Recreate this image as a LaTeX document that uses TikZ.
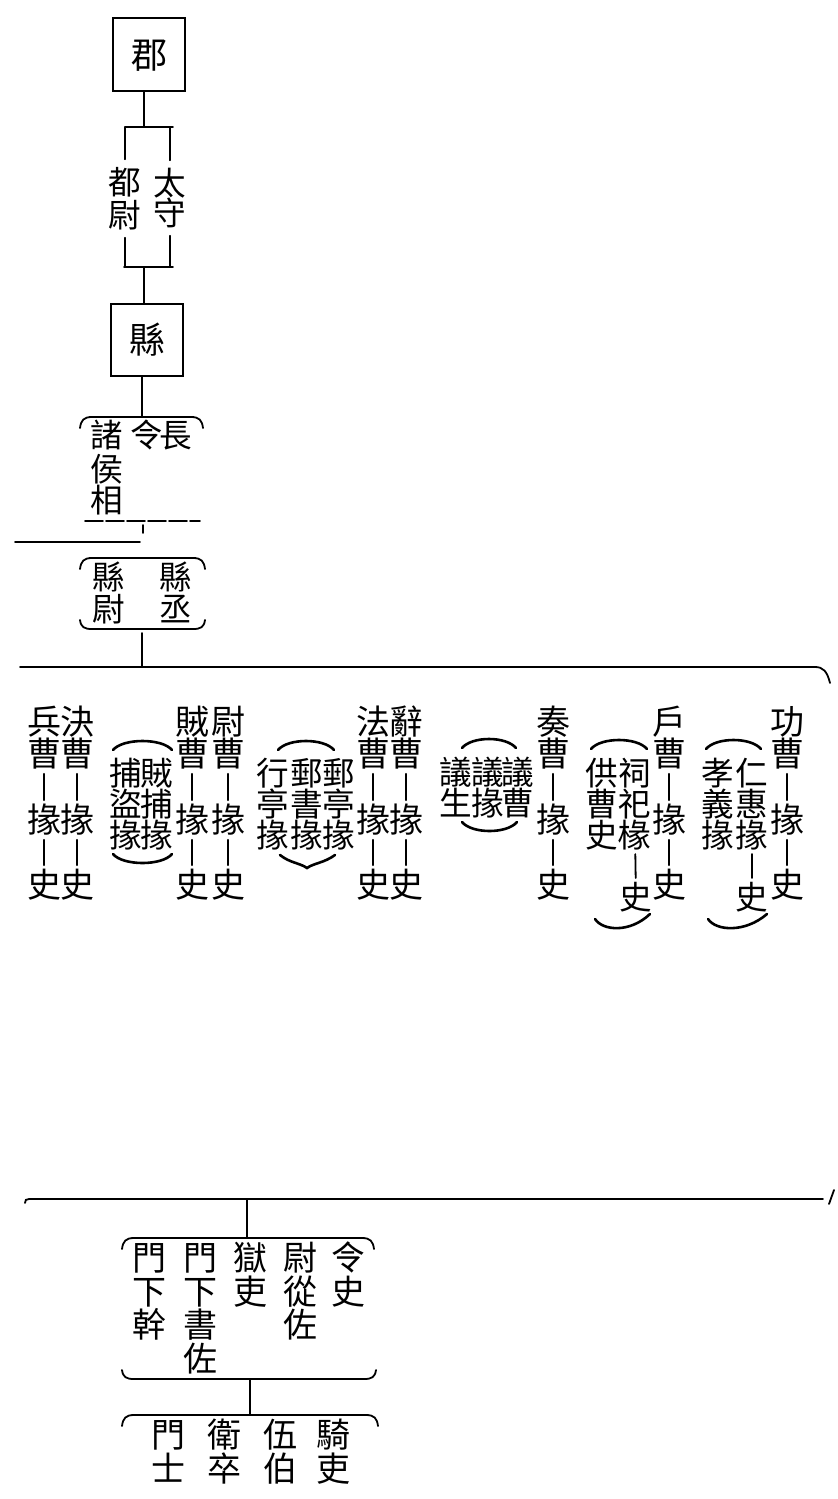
\documentclass[tikz,border=0pt]{standalone}
\usepackage{fontspec}
\newfontfamily\cjk{Noto Sans CJK TC}
\tikzset{
  zi/.style={font=\cjk\fontsize{17pt}{17pt}\selectfont, inner sep=0pt, text height=14.96pt, text depth=2.04pt},
  zim/.style={font=\cjk\fontsize{16.3pt}{16.3pt}\selectfont, inner sep=0pt, text height=14.34pt, text depth=1.96pt},
  zil/.style={font=\cjk\fontsize{18pt}{18pt}\selectfont, inner sep=0pt, text height=15.84pt, text depth=2.16pt},
  ln/.style={line width=0.9pt, line cap=round},
  bow/.style={line width=1.3pt, line cap=round},
  link/.style={ln, shorten <=1.2pt, shorten >=1.2pt},
  box/.style={draw, line width=1pt},
}
\newcommand\mytopbr[3]{\draw[ln] (#1,#3+11) .. controls (#1+1,#3+3) and (#1+4,#3) .. (#1+12,#3) -- (#2-12,#3) .. controls (#2-4,#3) and (#2-1,#3+3) .. (#2,#3+11);}
\newcommand\mybotbr[3]{\draw[ln] (#1,#3-9) .. controls (#1+1,#3-2) and (#1+4,#3) .. (#1+12,#3) -- (#2-12,#3) .. controls (#2-4,#3) and (#2-1,#3-2) .. (#2,#3-9);}
\newcommand\mybowt[3]{\draw[bow] (#1,#3+9) .. controls (#1+10,#3-3) and (#2-10,#3-3) .. (#2,#3+9);}
\newcommand\mybowb[3]{\draw[bow] (#1,#3-9) .. controls (#1+10,#3+3) and (#2-10,#3+3) .. (#2,#3-9);}
\begin{document}
\begin{tikzpicture}[x=0.5pt,y=-0.5pt]
\fill[white] (0,0) rectangle (837,1499);
\useasboundingbox (0,0) rectangle (837,1499);

% ---- 郡 ----
\node[zil, box, minimum width=36pt, minimum height=36.5pt] (jun) at (149,54.5) {郡};
\coordinate (a1) at (125,127);
\coordinate (a2) at (173,127);
\coordinate (am) at (144,127);
\draw[ln] (jun.south -| am) -- (am);
\draw[ln] (a1) -- (a2);
\node[zim] (du1) at (125,182) {都};
\node[zim] (du2) at (125,215) {尉};
\node[zim] (tai1) at (170,183) {太};
\node[zim] (tai2) at (170,213) {守};
\coordinate (b1) at (124,267);
\coordinate (b2) at (173,267);
\coordinate (bm) at (144,267);
\draw[ln, shorten >=3pt] (du1 |- a1) -- (du1);
\draw[ln, shorten >=3pt] (tai1 |- a1) -- (tai1);
\draw[ln, shorten <=3pt] (du2) -- (du2 |- b1);
\draw[ln, shorten <=3pt] (tai2) -- (tai2 |- b1);
\draw[ln] (b1) -- (b2);

% ---- 縣 ----
\node[zil, box, minimum width=36pt, minimum height=36pt] (xian) at (147,340) {縣};
\draw[ln] (bm) -- (bm |- xian.north);
\coordinate (c1m) at (142,417);
\draw[ln] (xian.south -| c1m) -- (c1m);

% ---- 令長 / 諸侯相 ----
\mytopbr{80}{203}{417}
\node[zim] (zhu1) at (107,435) {諸};
\node[zim] (zhu2) at (107,469) {侯};
\node[zim] (zhu3) at (107,500) {相};
\node[zim] (ling) at (147,435) {令};
\node[zim] (zhang) at (176,435) {長};
\draw[ln, dash pattern=on 9pt off 1.5pt] (85,521) -- (200,521);
\draw[ln] (143,525) -- (143,533);
\draw[ln] (15,542) -- (140,542);

% ---- 縣尉 / 縣丞 ----
\mytopbr{80}{205}{558}
\node[zim] (xw1) at (109,577) {縣};
\node[zim] (xw2) at (109,609) {尉};
\node[zim] (xc1) at (176,577) {縣};
\node[zim] (xc2) at (176,609) {丞};
\mybotbr{80}{205}{629}
\coordinate (d1m) at (142,633);
\coordinate (e1m) at (142,667);
\draw[ln] (d1m) -- (e1m);
\draw[ln] (20,667) -- (815,667) .. controls (823,667) and (827,671) .. (830,683);

% ---- main columns ----
\foreach \nm/\x/\a in {bing/44/兵, jue/77/決, zei/192/賊, wei/228/尉, fa/373/法, ci/406/辭, zou/553/奏, hu/669/戶, gong/787/功}{
  \node[zi] (\nm1) at (\x,722) {\a};
  \node[zi] (\nm2) at (\x,754) {曹};
  \node[zi] (\nm3) at (\x,820) {掾};
  \node[zi] (\nm4) at (\x,885) {史};
  \draw[link] (\nm2) -- (\nm3);
  \draw[link] (\nm3) -- (\nm4);
}

% ---- bracketed groups ----
\foreach \nm/\x/\a/\b/\c in {ga/126/捕/盜/掾, gb/157/賊/捕/掾, gc/273/行/亭/掾, gd/307/郵/書/掾, ge/339/郵/亭/掾, gh/602/供/曹/史, gi/635/祠/祀/椽, gj/718/孝/義/掾, gk/752/仁/惠/掾}{
  \node[zim] (\nm1) at (\x,773) {\a};
  \node[zim] (\nm2) at (\x,804) {\b};
  \node[zim] (\nm3) at (\x,835) {\c};
}
\foreach \nm/\x/\a/\b in {gf/456/議/生, gg/488/議/掾, gm/518/議/曹}{
  \node[zim] (\nm1) at (\x,772) {\a};
  \node[zim] (\nm2) at (\x,803) {\b};
}
\node[zim] (gis) at (636,897) {史};
\draw[link] (gi3) -- (gis);
\node[zim] (gks) at (752,897) {史};
\draw[link] (gk3) -- (gks);

\mybowt{113}{172}{741}
\mybowb{113}{172}{863}
\mybowt{278}{334}{741}
\draw[bow] (280,855) .. controls (290,863) and (300,863) .. (307,868) .. controls (314,863) and (324,863) .. (335,855);
\mybowt{462}{516}{739}
\mybowb{462}{517}{831}
\mybowt{591}{647}{740}
\draw[bow] (595,919) .. controls (603,931) and (630,933) .. (650,914);
\mybowt{706}{761}{740}
\draw[bow] (708,919) .. controls (716,931) and (745,933) .. (767,914);

% ---- lower line ----
\draw[ln] (25,1203) .. controls (25,1200) and (26,1199) .. (29,1199) -- (823,1199);
\draw[ln] (829,1204) -- (834,1190);
\coordinate (f1m) at (247,1199);
\coordinate (f2m) at (247,1238);
\draw[ln] (f1m) -- (f2m);

% ---- 門下 group ----
\mytopbr{122}{374}{1238}
\foreach \nm/\x/\a/\b/\c in {mg/149/門/下/幹, ms/200/門/下/書, wz/300/尉/從/佐}{
  \node[zi] (\nm1) at (\x,1258) {\a};
  \node[zi] (\nm2) at (\x,1292) {\b};
  \node[zi] (\nm3) at (\x,1325) {\c};
}
\node[zi] (ms4) at (200,1359) {佐};
\node[zi] (yu1) at (250,1258) {獄};
\node[zi] (yu2) at (250,1292) {吏};
\node[zi] (ls1) at (348,1258) {令};
\node[zi] (ls2) at (348,1292) {史};
\mybotbr{122}{376}{1379}
\coordinate (h1m) at (250,1379);
\coordinate (h2m) at (250,1415);
\draw[ln] (h1m) -- (h2m);

% ---- 門士 group ----
\mytopbr{122}{378}{1415}
\foreach \nm/\x/\a/\b in {msh/168/門/士, wei2/224/衛/卒, wu/280/伍/伯, qi/333/騎/吏}{
  \node[zi] (\nm1) at (\x,1435) {\a};
  \node[zi] (\nm2) at (\x,1469) {\b};
}
\end{tikzpicture}
\end{document}
